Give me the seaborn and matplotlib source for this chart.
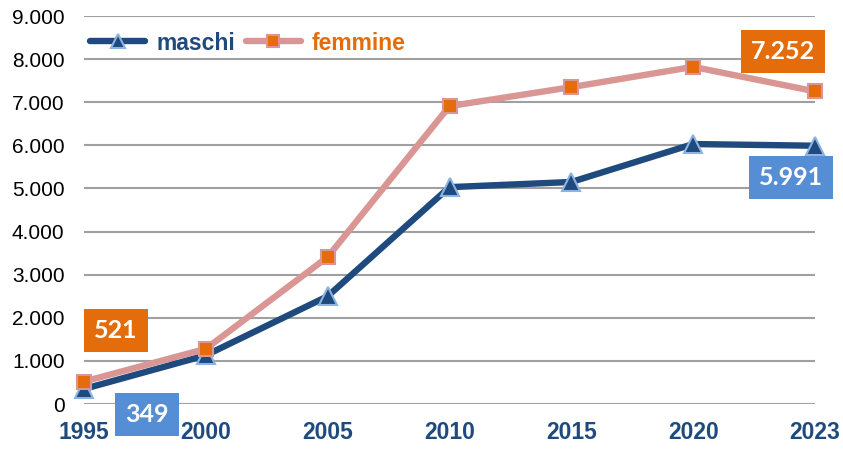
import pandas as pd
import seaborn as sns
import matplotlib.pyplot as plt
from matplotlib.ticker import FuncFormatter

# data
years = ['1995', '2000', '2005', '2010', '2015', '2020', '2023']
maschi = [349, 1130, 2500, 5030, 5150, 6030, 5991]
femmine = [521, 1280, 3410, 6910, 7350, 7820, 7252]

blue_dark = '#1F4A7E'
blue_light = '#8DB3E2'
blue_box = '#558ED5'
pink = '#D99694'
orange = '#E46C0A'

sns.set_style('white')
plt.rcParams['font.family'] = ['Liberation Sans', 'DejaVu Sans']

df = pd.DataFrame({'anno': years, 'maschi': maschi, 'femmine': femmine})

fig = plt.figure(figsize=(8.43, 4.5), dpi=100)
ax = fig.add_axes([84 / 843, 1 - 404 / 450, (815 - 84) / 843, (404 - 16) / 450])

sns.lineplot(data=df, x='anno', y='maschi', ax=ax, color=blue_dark, linewidth=4.6,
             marker='^', markersize=13, markerfacecolor=blue_dark,
             markeredgecolor=blue_light, markeredgewidth=1.5, clip_on=False,
             label='maschi', zorder=3, legend=False, solid_capstyle='round')
sns.lineplot(data=df, x='anno', y='femmine', ax=ax, color=pink, linewidth=4.6,
             marker='s', markersize=10, markerfacecolor=orange,
             markeredgecolor=pink, markeredgewidth=1.5, clip_on=False,
             label='femmine', zorder=4, legend=False, solid_capstyle='round')

ax.set_xlim(0, len(years) - 1)
ax.set_ylim(0, 9000)
ax.set_yticks(range(0, 9001, 1000))
ax.yaxis.set_major_formatter(FuncFormatter(lambda v, p: f'{v:,.0f}'.replace(',', '.')))
ax.grid(axis='y', color='#A0A0A0', linewidth=1.5)
ax.grid(axis='x', visible=False)
ax.set_axisbelow(True)
for s in ax.spines.values():
    s.set_visible(False)
ax.set_xlabel('')
ax.set_ylabel('')
ax.tick_params(axis='y', length=0, pad=14, labelsize=15, labelcolor='black')
ax.tick_params(axis='x', length=0, pad=12, labelsize=16.5, labelcolor=blue_dark)
for t in ax.get_xticklabels():
    t.set_fontweight('bold')

# value boxes
lbl = dict(textcoords='offset pixels', ha='center', va='center', color='white',
           fontsize=18, fontweight='bold', family=['Lato', 'DejaVu Sans'],
           annotation_clip=False, zorder=6)
box = 'square,pad=0.4'
ax.annotate('521', xy=(0, femmine[0]), xytext=(32, 51),
            bbox=dict(boxstyle=box, fc=orange, ec='none'), **lbl)
ax.annotate('349', xy=(0, maschi[0]), xytext=(63, -26),
            bbox=dict(boxstyle=box, fc=blue_box, ec='none'), **lbl)
ax.annotate('7.252', xy=(6, femmine[-1]), xytext=(-32, 40),
            bbox=dict(boxstyle=box, fc=orange, ec='none'), **lbl)
ax.annotate('5.991', xy=(6, maschi[-1]), xytext=(-24, -32),
            bbox=dict(boxstyle=box, fc=blue_box, ec='none'), **lbl)

leg = ax.legend(loc='center left', bbox_to_anchor=(90 / 843, 1 - 43 / 450),
                bbox_transform=fig.transFigure, ncol=2, frameon=False,
                borderpad=0, borderaxespad=0, handlelength=2.4,
                handletextpad=0.5, columnspacing=0.45, markerscale=0.8,
                prop={'size': 16.5, 'weight': 'bold'})
for txt, c in zip(leg.get_texts(), [blue_dark, orange]):
    txt.set_color(c)

plt.savefig('out.png', dpi=100)
